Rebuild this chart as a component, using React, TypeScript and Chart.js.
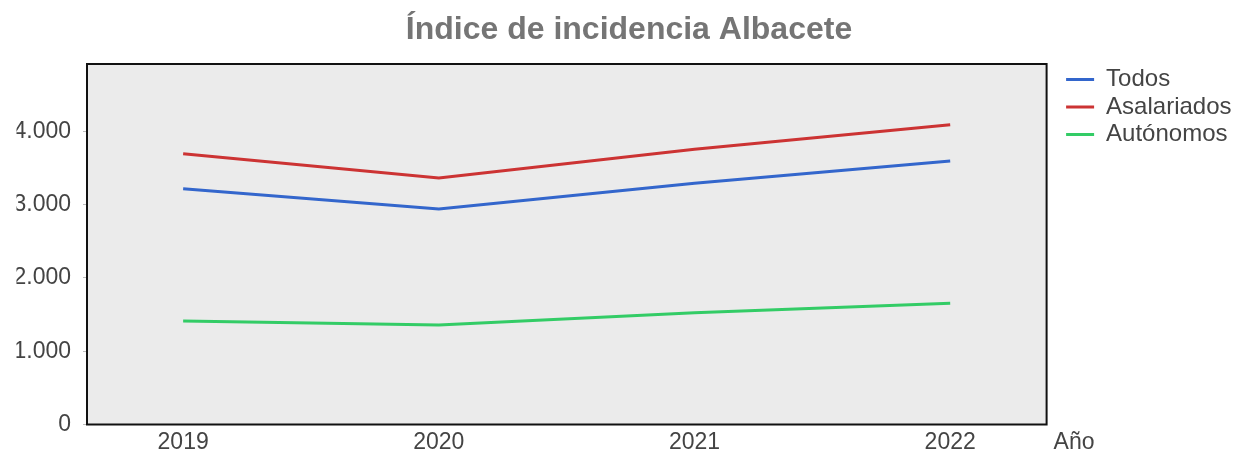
import React, { useEffect, useRef } from 'react';
import { Chart, registerables } from 'chart.js';

Chart.register(...registerables);

const years = [2019, 2020, 2021, 2022];
const todos = [3217, 2940, 3290, 3595];
const asalariados = [3694, 3363, 3754, 4090];
const autonomos = [1412, 1357, 1525, 1653];
const yTickValues = [0, 1000, 2000, 3000, 4000];
const seriesNames = ['Todos', 'Asalariados', 'Autónomos'];
const seriesColors = ['#3366CC', '#CC3333', '#33CC66'];
const titleText = 'Índice de incidencia Albacete';
const xAxisTitle = 'Año';

const FONT = "Arial, 'Liberation Sans', Helvetica, sans-serif";

const fmt = (v: number) => String(v).replace(/\B(?=(\d{3})+(?!\d))/g, '.');

const plotFrame = {
  id: 'plotFrame',
  beforeDraw(chart: any) {
    const { ctx, chartArea } = chart;
    ctx.save();
    ctx.fillStyle = '#ebebeb';
    ctx.fillRect(chartArea.left, chartArea.top, chartArea.right - chartArea.left, chartArea.bottom - chartArea.top);
    ctx.restore();
  },
  afterDatasetsDraw(chart: any) {
    const { ctx, chartArea } = chart;
    ctx.save();
    ctx.strokeStyle = '#111111';
    ctx.lineWidth = 2;
    ctx.strokeRect(chartArea.left, chartArea.top, chartArea.right - chartArea.left, chartArea.bottom - chartArea.top);
    ctx.restore();
  },
  afterDraw(chart: any) {
    const { ctx, chartArea } = chart;
    const xs = chart.scales.x;
    ctx.save();
    ctx.font = `23px ${FONT}`;
    ctx.fillStyle = '#444444';
    ctx.textAlign = 'left';
    ctx.textBaseline = 'middle';
    ctx.fillText(xAxisTitle, chartArea.right + 7, xs.top + 4.5 + (23 * 1.2) / 2);
    ctx.restore();
  },
};

export default function App() {
  const ref = useRef<HTMLCanvasElement | null>(null);

  useEffect(() => {
    if (!ref.current) return;
    const seriesValues = [todos, asalariados, autonomos];
    const chart = new Chart(ref.current, {
      type: 'line',
      data: {
        datasets: seriesNames.map((name, i) => ({
          label: name,
          data: years.map((y, j) => ({ x: y, y: seriesValues[i][j] })),
          borderColor: seriesColors[i],
          backgroundColor: seriesColors[i],
          borderWidth: 3,
          pointRadius: 0,
          pointHoverRadius: 0,
          tension: 0,
          fill: false,
        })),
      },
      options: {
        animation: false,
        responsive: true,
        maintainAspectRatio: false,
        layout: { padding: { left: 16.5, right: 5.5, top: 0, bottom: 0 } },
        plugins: {
          tooltip: { enabled: false },
          title: {
            display: true,
            text: titleText,
            color: '#757575',
            font: { family: FONT, size: 32, weight: 'bold' },
            padding: { top: 11, bottom: 14.6 },
          },
          legend: {
            position: 'right',
            align: 'start',
            fullSize: false,
            labels: {
              boxWidth: 28,
              boxHeight: 3,
              padding: 3.5,
              color: '#444444',
              font: { family: FONT, size: 24 },
              generateLabels: (chart: any) =>
                Chart.defaults.plugins.legend.labels
                  .generateLabels(chart)
                  .map((l: any) => ({ ...l, lineWidth: 0 })),
            },
          },
        },
        scales: {
          x: {
            type: 'linear',
            min: 2018.624,
            max: 2022.377,
            afterBuildTicks: (s: any) => {
              s.ticks = years.map((v) => ({ value: v }));
            },
            afterFit: (s: any) => {
              s.height = 32.5;
            },
            ticks: {
              callback: (v: any) => String(v),
              color: '#444444',
              font: { family: FONT, size: 23 },
              padding: 4.5,
              maxRotation: 0,
            },
            grid: { display: false, drawTicks: false },
            border: { display: false },
          },
          y: {
            type: 'linear',
            min: 0,
            max: 4918,
            afterBuildTicks: (s: any) => {
              s.ticks = yTickValues.map((v) => ({ value: v }));
            },
            afterFit: (s: any) => {
              s.width = 70.5;
            },
            ticks: {
              callback: (v: any) => fmt(Number(v)),
              color: '#444444',
              font: { family: FONT, size: 23 },
              padding: 12,
            },
            grid: { display: true, drawOnChartArea: false, drawTicks: true, tickLength: 4, color: '#bbbbbb' },
            border: { display: false },
          },
          gap: {
            type: 'linear',
            position: 'right',
            display: true,
            afterFit: (s: any) => {
              s.width = 16;
            },
            ticks: { display: false },
            grid: { display: false, drawTicks: false },
            border: { display: false },
          },
        },
      },
      plugins: [plotFrame],
    } as any);
    return () => chart.destroy();
  }, []);

  return (
    <div style={{ position: 'fixed', left: 0, top: 0, width: 1247, height: 457, background: '#ffffff' }}>
      <canvas ref={ref} />
    </div>
  );
}
